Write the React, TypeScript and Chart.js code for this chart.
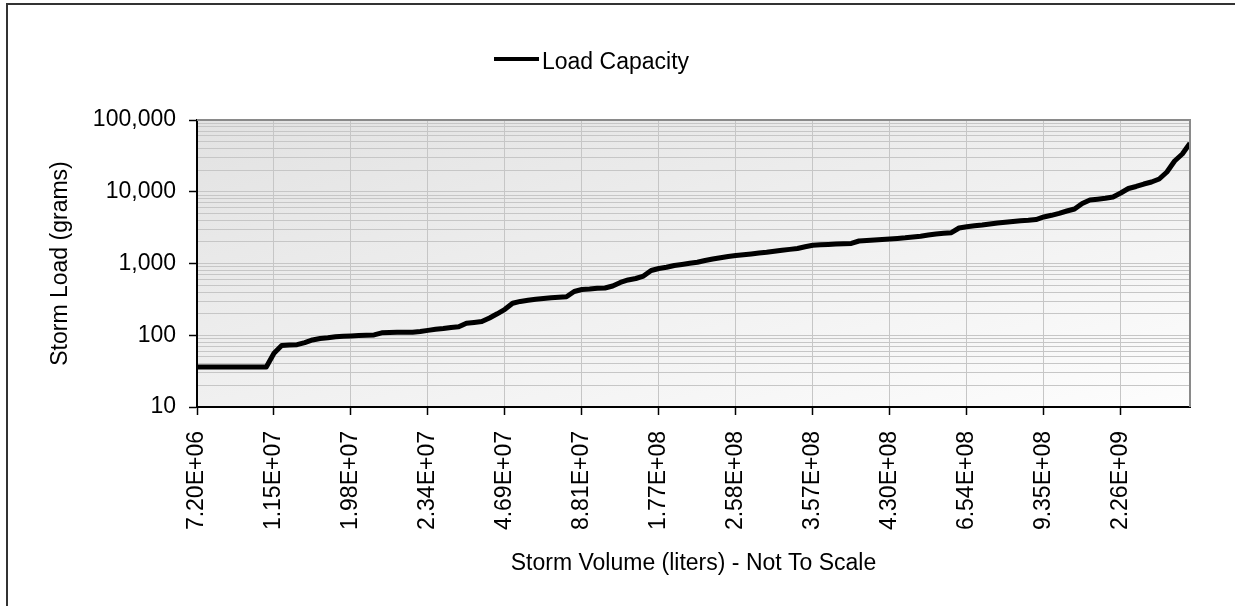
import React, { useEffect, useRef } from 'react';
import { Chart, registerables } from 'chart.js';

Chart.register(...registerables);

// ---- data ----
const seriesName = 'Load Capacity';
const xAxisTitle = 'Storm Volume (liters) - Not To Scale';
const yAxisTitle = 'Storm Load (grams)';

const xTickLabels = [
  '7.20E+06', '1.15E+07', '1.98E+07', '2.34E+07', '4.69E+07', '8.81E+07', '1.77E+08',
  '2.58E+08', '3.57E+08', '4.30E+08', '6.54E+08', '9.35E+08', '2.26E+09',
];
// category index at which each x tick label sits
const xTickIndexes = [0, 10, 20, 30, 40, 50, 60, 70, 80, 90, 100, 110, 120];

const yMajorValues = [10, 100, 1000, 10000, 100000];
const yTickLabels = ['10', '100', '1,000', '10,000', '100,000'];

const loadCapacity = [
  36, 36, 36, 36, 36, 36, 36, 36, 36, 36,
  56, 72, 73, 74, 79, 86, 90, 92, 95, 97,
  98, 99, 100, 101, 108, 109, 110, 110, 110, 113,
  117, 121, 124, 128, 131, 147, 151, 155, 174, 199,
  230, 279, 296, 307, 317, 325, 333, 338, 344, 407,
  434, 441, 451, 456, 486, 544, 589, 618, 669, 799,
  852, 885, 938, 969, 1006, 1039, 1101, 1155, 1204, 1252,
  1293, 1326, 1361, 1401, 1437, 1484, 1528, 1573, 1619, 1710,
  1794, 1822, 1846, 1870, 1888, 1906, 2059, 2092, 2126, 2161,
  2196, 2238, 2282, 2341, 2402, 2496, 2578, 2636, 2688, 3125,
  3258, 3353, 3440, 3553, 3669, 3764, 3849, 3949, 4013, 4104,
  4448, 4696, 5008, 5393, 5750, 6859, 7674, 7874, 8104, 8450,
  9607, 11100, 11840, 12820, 13680, 15060, 18860, 26830, 33580, 47360,
];

// ---- styling ----
const FONT_FAMILY = '"Liberation Sans", Arial, Helvetica, sans-serif';
const FONT_SIZE = 23;

// gridline values of the log axis: 1..9 x each decade
const yGridValues: number[] = [];
for (let d = 0; d < yMajorValues.length - 1; d++) {
  for (let k = 1; k <= 9; k++) yGridValues.push(yMajorValues[d] * k);
}
yGridValues.push(yMajorValues[yMajorValues.length - 1]);

const plotBackground = {
  id: 'plotBackground',
  beforeDraw(chart: any) {
    const { ctx, chartArea: a } = chart;
    const w = a.right - a.left;
    const h = a.bottom - a.top;
    const ux = 0.259;
    const uy = 0.966;
    const len = w * ux + h * uy;
    const g = ctx.createLinearGradient(a.left, a.top, a.left + ux * len, a.top + uy * len);
    g.addColorStop(0, '#e2e2e2');
    g.addColorStop(1, '#fdfdfd');
    ctx.save();
    ctx.fillStyle = g;
    ctx.fillRect(a.left, a.top, w, h);
    ctx.restore();
  },
};

const plotFrame = {
  id: 'plotFrame',
  afterDraw(chart: any) {
    const { ctx, chartArea: a } = chart;
    ctx.save();
    ctx.strokeStyle = '#8a8a8a';
    ctx.lineWidth = 2;
    ctx.beginPath();
    ctx.moveTo(a.left, a.top);
    ctx.lineTo(a.right, a.top);
    ctx.lineTo(a.right, a.bottom);
    ctx.stroke();
    ctx.restore();
  },
};

export default function App() {
  const canvasRef = useRef<HTMLCanvasElement | null>(null);

  useEffect(() => {
    if (!canvasRef.current) return;
    Chart.defaults.font.family = FONT_FAMILY;
    Chart.defaults.font.size = FONT_SIZE;
    Chart.defaults.color = '#000';

    const chart = new Chart(canvasRef.current, {
      type: 'line',
      data: {
        datasets: [
          {
            label: seriesName,
            data: loadCapacity.map((v, i) => ({ x: i, y: v })),
            borderColor: '#000',
            backgroundColor: '#000',
            borderWidth: 5,
            pointRadius: 0,
            tension: 0,
            borderJoinStyle: 'round',
            fill: false,
          },
        ],
      },
      options: {
        responsive: false,
        animation: false,
        events: [],
        layout: { padding: { left: 8, right: 45, top: 120, bottom: 0 } },
        plugins: {
          legend: { display: false },
          tooltip: { enabled: false },
          title: { display: false },
        },
        scales: {
          x: {
            type: 'linear',
            position: 'bottom',
            min: 0,
            max: loadCapacity.length - 1,
            offset: false,
            afterBuildTicks: (scale: any) => {
              scale.ticks = xTickIndexes.map((v) => ({ value: v }));
            },
            afterFit: (scale: any) => {
              scale.height = 199;
            },
            ticks: {
              autoSkip: false,
              minRotation: 90,
              maxRotation: 90,
              padding: 16,
              font: { size: FONT_SIZE },
              color: '#000',
              callback: (value: any) => {
                const idx = xTickIndexes.indexOf(Number(value));
                return idx >= 0 ? xTickLabels[idx] : '';
              },
            },
            grid: {
              color: '#c6c6c6',
              lineWidth: 1,
              drawTicks: true,
              tickLength: 8,
              tickColor: '#000',
              tickWidth: 1.5,
            },
            border: { display: true, color: '#000', width: 2 },
            title: {
              display: true,
              text: xAxisTitle,
              font: { size: FONT_SIZE },
              color: '#000',
              padding: { top: 0, bottom: 29 },
            },
          },
          y: {
            type: 'logarithmic',
            position: 'left',
            min: 10,
            max: 100000,
            afterBuildTicks: (scale: any) => {
              scale.ticks = yGridValues.map((v) => ({ value: v, major: yMajorValues.includes(v) }));
            },
            afterFit: (scale: any) => {
              scale.width = 189;
            },
            ticks: {
              autoSkip: false,
              padding: 13,
              font: { size: FONT_SIZE },
              color: '#000',
              callback: (value: any) => {
                const idx = yMajorValues.indexOf(Number(value));
                return idx >= 0 ? yTickLabels[idx] : '';
              },
            },
            grid: {
              color: '#c6c6c6',
              lineWidth: 1,
              drawTicks: true,
              tickLength: 8,
              tickWidth: 1.5,
              tickColor: (ctx: any) =>
                ctx.tick && yMajorValues.includes(ctx.tick.value) ? '#000' : 'rgba(0,0,0,0)',
            },
            border: { display: true, color: '#000', width: 2 },
            title: {
              display: true,
              text: yAxisTitle,
              font: { size: FONT_SIZE },
              color: '#000',
              padding: { top: 39, bottom: 0 },
            },
          },
        },
      },
      plugins: [plotBackground, plotFrame],
    } as any);

    return () => chart.destroy();
  }, []);

  return (
    <div
      style={{
        position: 'fixed',
        left: 0,
        top: 0,
        width: 1235,
        height: 606,
        overflow: 'hidden',
        background: '#fff',
      }}
    >
      <div
        style={{
          position: 'absolute',
          left: 6,
          top: 3,
          width: 1400,
          height: 800,
          borderTop: '2px solid #333',
          borderLeft: '2px solid #333',
        }}
      />
      <canvas
        ref={canvasRef}
        width={1235}
        height={606}
        style={{ position: 'absolute', left: 0, top: 0, width: 1235, height: 606 }}
      />
      <div
        style={{
          position: 'absolute',
          left: 494,
          top: 57,
          width: 45,
          height: 4,
          background: '#000',
        }}
      />
      <div
        style={{
          position: 'absolute',
          left: 542,
          top: 50,
          fontFamily: FONT_FAMILY,
          fontSize: FONT_SIZE,
          lineHeight: '23px',
          whiteSpace: 'nowrap',
          color: '#000',
        }}
      >
        {seriesName}
      </div>
    </div>
  );
}
